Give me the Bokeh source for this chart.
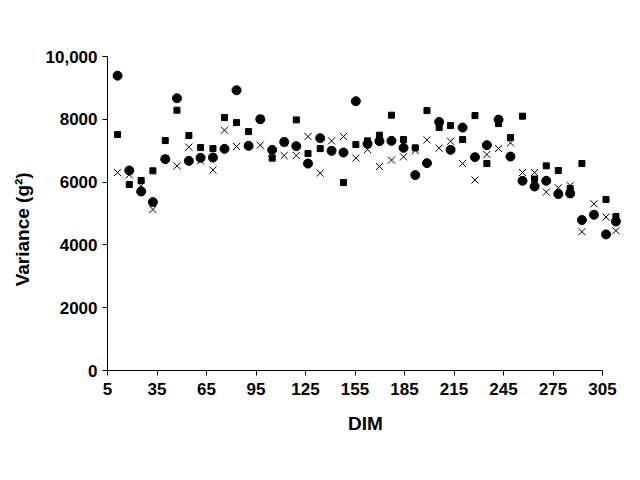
from bokeh.plotting import figure
from bokeh.models import FixedTicker, ColumnDataSource
from bokeh.embed import file_html
from bokeh.resources import INLINE

# DIM of each weekly sample
dim = [11.1, 18.2, 25.4, 32.5, 40.0, 47.1, 54.3, 61.4, 68.9, 75.9,
       83.2, 90.5, 97.6, 104.8, 112.1, 119.4, 126.5, 133.9, 140.8, 148.0,
       155.5, 162.6, 169.8, 177.1, 184.4, 191.5, 198.6, 206.0, 212.9, 220.2,
       227.7, 234.9, 242.0, 249.2, 256.5, 263.8, 270.9, 278.2, 285.4, 292.5,
       299.8, 307.1, 313.1]

circle_var = [9389, 6369, 5701, 5364, 6731, 8671, 6677, 6773, 6782, 7059,
              8925, 7154, 8003, 7027, 7281, 7145, 6591, 7399, 6995, 6941,
              8576, 7218, 7304, 7313, 7091, 6223, 6604, 7917, 7027, 7736,
              6795, 7176, 7990, 6814, 6041, 5860, 6041, 5618, 5638, 4792,
              4960, 4334, 4747]

square_var = [7514, 5924, 6051, 6359, 7323, 8289, 7482, 7100, 7068, 8054,
              7895, 7609, 8022, 6763, 7250, 7981, 6909, 7068, 7000, 5987,
              7196, 7313, 7494, 8130, 7355, 7091, 8277, 7736, 7800, 7355,
              8118, 6591, 7863, 7418, 8099, 6095, 6518, 6369, 5797, 6591,
              4960, 5447, 4906]

x_var = [6305, 6232, 5882, 5129, 6750, 6518, 7113, 6677, 6382, 7653,
         7132, 7164, 7176, 6950, 6846, 6846, 7450, 6286, 7313, 7450,
         6763, 7037, 6496, 6700, 6804, 7005, 7345, 7081, 7300, 6591,
         6064, 6878, 7068, 7250, 6305, 6305, 5682, 5819, 5892, 4420,
         5310, 4887, 4452]

x_ticks = [5, 35, 65, 95, 125, 155, 185, 215, 245, 275, 305]
y_ticks = [0, 2000, 4000, 6000, 8000, 10000]

src = ColumnDataSource(dict(dim=dim, c=circle_var, s=square_var, x=x_var))

p = figure(width=624, height=464, output_backend="svg", toolbar_location=None,
           title=None, x_range=(5, 317.7), y_range=(0, 10000),
           min_border_left=107, min_border_right=1, min_border_top=56,
           min_border_bottom=94)

p.scatter("dim", "s", source=src, marker="square", size=6,
          fill_color="black", line_color="black")
p.scatter("dim", "x", source=src, marker="x", size=10,
          line_color="black", line_width=1)
p.scatter("dim", "c", source=src, marker="circle", size=9,
          fill_color="black", line_color="black")

p.xgrid.visible = False
p.ygrid.visible = False
p.outline_line_color = None
p.background_fill_color = "white"
p.border_fill_color = "white"

for ax in (p.xaxis[0], p.yaxis[0]):
    ax.axis_line_color = "black"
    ax.major_tick_line_color = "black"
    ax.minor_tick_line_color = None
    ax.major_tick_in = 0
    ax.major_tick_out = 5
    ax.major_label_text_font = "Liberation Sans"
    ax.major_label_text_font_style = "bold"
    ax.major_label_text_font_size = "17px"
    ax.major_label_text_color = "black"
    ax.axis_label_text_font = "Liberation Sans"
    ax.axis_label_text_font_style = "bold"
    ax.axis_label_text_font_size = "19px"
    ax.axis_label_text_color = "black"

p.xaxis[0].ticker = FixedTicker(ticks=x_ticks)
p.xaxis[0].bounds = (5, 305)
p.xaxis[0].axis_label = "DIM"
p.xaxis[0].major_label_standoff = 7
p.xaxis[0].axis_label_standoff = 15

p.yaxis[0].ticker = FixedTicker(ticks=y_ticks)
p.yaxis[0].major_label_overrides = {10000: "10,000"}
p.yaxis[0].axis_label = "Variance (g²)" + "\u00a0" * 6
p.yaxis[0].major_label_standoff = 5
p.yaxis[0].axis_label_standoff = 10

open("out.html", "w").write(file_html(p, INLINE))
